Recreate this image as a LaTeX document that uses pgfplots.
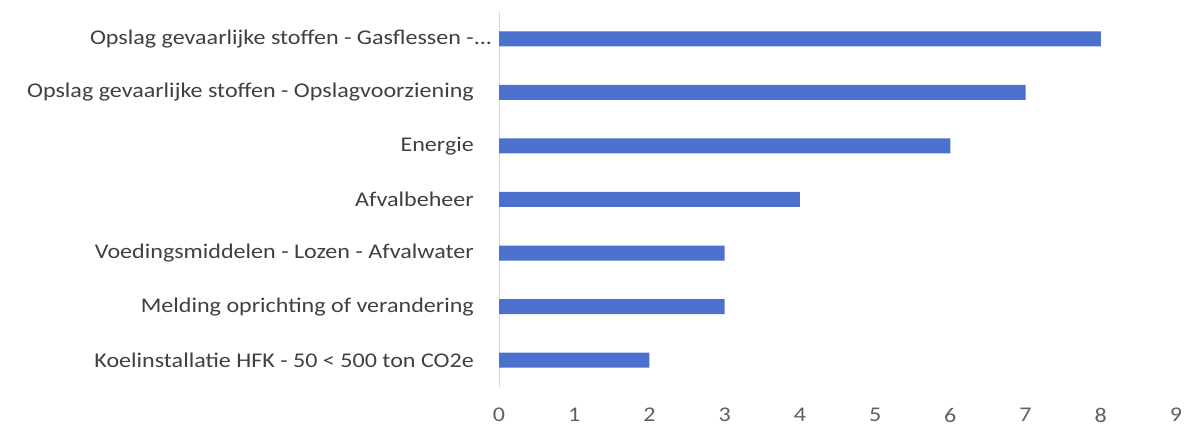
\documentclass[border=0pt]{standalone}
\usepackage{pgfplots}
\pgfplotsset{compat=1.18}
\usepackage{fontspec}
\setmainfont{Carlito}[FakeStretch=1.15]

\definecolor{barblue}{RGB}{76,112,206}
\definecolor{labelgray}{RGB}{64,64,64}
\definecolor{tickgray}{RGB}{96,96,96}
\definecolor{axisgray}{RGB}{217,217,217}

\begin{document}
\begin{tikzpicture}
    \useasboundingbox (0,0) rectangle (1192bp,428bp);
    \begin{axis}[
        at={(499bp,41bp)},
        anchor=south west,
        scale only axis,
        width=677bp,
        height=375bp,
        xbar,
        bar width=15bp,
        xmin=0, xmax=9,
        ymin=-0.5, ymax=6.5,
        xtick={0,1,...,9},
        ytick={0,1,...,6},
        yticklabels={
            Koelinstallatie HFK - 50 < 500 ton CO2e,
            Melding oprichting of verandering,
            Voedingsmiddelen - Lozen - Afvalwater,
            Afvalbeheer,
            Energie,
            Opslag gevaarlijke stoffen - Opslagvoorziening,
            Opslag gevaarlijke stoffen - Gasflessen -\rlap{...}
        },
        axis x line=bottom,
        axis y line=left,
        x axis line style={draw=none},
        y axis line style={draw=axisgray, line width=1bp, -},
        major tick length=0pt,
        every tick/.style={draw=none},
        yticklabel style={anchor=east, inner sep=0pt, xshift=-25bp,
            font=\fontsize{21}{25}\selectfont, text=labelgray},
        xticklabel style={anchor=north, inner sep=0pt, yshift=-21bp,
            font=\fontsize{21}{25}\selectfont, text=tickgray},
        /pgf/number format/assume math mode=true,
        clip=false,
    ]
        % count per category
        \addplot[fill=barblue, draw=none] coordinates {
            (2,0)
            (3,1)
            (3,2)
            (4,3)
            (6,4)
            (7,5)
            (8,6)
        };
    \end{axis}
\end{tikzpicture}
\end{document}
